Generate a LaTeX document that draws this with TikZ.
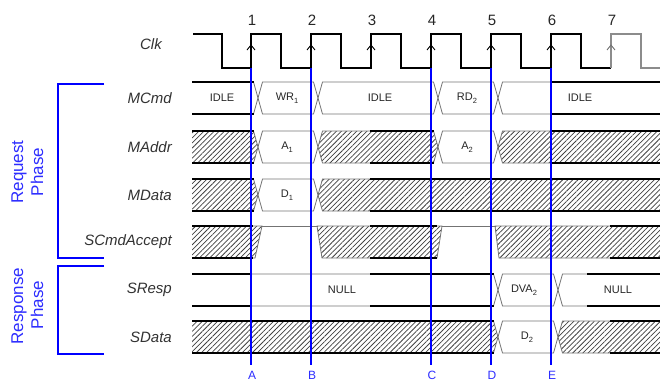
\documentclass[tikz,border=0pt]{standalone}
\usepackage{fontspec}
\setmainfont{Liberation Sans}
\usetikzlibrary{patterns.meta}
\definecolor{bl}{RGB}{0,0,255}
\definecolor{bltxt}{RGB}{45,45,255}
\definecolor{lbl}{RGB}{50,50,50}
\tikzset{
  thinl/.style={draw=black!55,line width=0.8pt},
  thickl/.style={draw=black,line width=1.8pt},
  hatch/.style={pattern={Lines[angle=45,distance=3.6pt,line width=0.75pt]},pattern color=black!75},
  clkline/.style={draw=black,line width=1.8pt},
  clkgray/.style={draw=black!45,line width=1.4pt},
  chev/.style={draw=black,line width=0.9pt},
  blueline/.style={draw=bl,line width=2.4pt},
  bracket/.style={draw=bl,line width=1.8pt},
  siglabel/.style={anchor=east,inner sep=0pt,text=lbl,font=\fontsize{15}{17}\selectfont\itshape},
  vallabel/.style={inner sep=0pt,text=black!85,font=\fontsize{11}{13}\selectfont},
  numlabel/.style={inner sep=0pt,text=black!85,font=\fontsize{15}{17}\selectfont},
  letlabel/.style={anchor=base,inner sep=0pt,text=bltxt,font=\fontsize{12}{14}\selectfont},
  phaselabel/.style={inner sep=0pt,text=bltxt,rotate=90,font=\fontsize{17}{19}\selectfont},
}
\newcommand\sbs[1]{\raisebox{-2.5pt}{\fontsize{7.5}{8}\selectfont #1}}
% hexagon value box between crossing centres #1 and #2, rows #3 (top) #4 (bottom)
\newcommand\hexv[5]{\path[#5] (#1,{(#3+#4)/2}) -- ({#1+4.5},#3) -- ({#2-4.5},#3) -- (#2,{(#3+#4)/2}) -- ({#2-4.5},#4) -- ({#1+4.5},#4) -- cycle;}
\newcommand\firstv[4]{\path[#4] (192,#2) -- ({#1-4.5},#2) -- (#1,{(#2+#3)/2}) -- ({#1-4.5},#3) -- (192,#3);}
\newcommand\lastv[4]{\path[#4] (660,#2) -- ({#1+4.5},#2) -- (#1,{(#2+#3)/2}) -- ({#1+4.5},#3) -- (660,#3);}
\newcommand\thk[4]{\draw[thickl] (#1,#3) -- (#2,#3) (#1,#4) -- (#2,#4);}
\begin{document}
\begin{tikzpicture}[x=1pt,y=-1pt]
\useasboundingbox (0,0) rectangle (660,381);
% ---- clock ----
\draw[clkline] (193,34) -- (222,34) -- (222,68) -- (251,68) -- (251,34) -- (281,34) -- (281,68)
  -- (311,68) -- (311,34) -- (341,34) -- (341,68) -- (371,68) -- (371,34) -- (401,34) -- (401,68)
  -- (431,68) -- (431,34) -- (461,34) -- (461,68) -- (491,68) -- (491,34) -- (521,34) -- (521,68)
  -- (551,68) -- (551,34) -- (581,34) -- (581,68) -- (611,68);
\draw[clkgray] (611,68) -- (611,34) -- (641,34) -- (641,68) -- (660,68);
\foreach \e in {251,311,371,431,491,551}{\draw[chev] (\e-4,50) -- (\e,45) -- (\e+4,50);}
\draw[chev,draw=black!55] (607,50) -- (611,45) -- (615,50);
\foreach \e/\n in {251/1,311/2,371/3,431/4,491/5,551/6,611/7}{\node[numlabel] (n\n) at (\e+1,20) {\n};}
% ---- signal labels ----
\node[siglabel] (lclk) at (162,44) {Clk};
\node[siglabel] (lmcmd) at (172,98) {MCmd};
\node[siglabel] (lmaddr) at (172,147) {MAddr};
\node[siglabel] (lmdata) at (172,195) {MData};
\node[siglabel] (lscmd) at (172,242) {SCmdAccept};
\node[siglabel] (lsresp) at (172,290) {SResp};
\node[siglabel] (lsdata) at (172,337) {SData};
% ---- MCmd ----
\firstv{258}{82}{114}{thinl}
\hexv{258}{318}{82}{114}{thinl}
\hexv{318}{438}{82}{114}{thinl}
\hexv{438}{498}{82}{114}{thinl}
\lastv{498}{82}{114}{thinl}
\thk{192}{253.5}{82}{114}
\thk{551}{660}{82}{114}
\node[vallabel] (v1) at (222,98) {IDLE};
\node[vallabel] (v2) at (287,98) {WR\sbs{1}};
\node[vallabel] (v3) at (380,98) {IDLE};
\node[vallabel] (v4) at (467,98) {RD\sbs{2}};
\node[vallabel] (v5) at (580,98) {IDLE};
% ---- MAddr ----
\firstv{258}{131}{163}{hatch,thinl}
\hexv{258}{318}{131}{163}{thinl}
\hexv{318}{438}{131}{163}{hatch,thinl}
\hexv{438}{498}{131}{163}{thinl}
\lastv{498}{131}{163}{hatch,thinl}
\thk{192}{253.5}{131}{163}
\thk{370}{433.5}{131}{163}
\thk{551}{660}{131}{163}
\node[vallabel] (v6) at (287,147) {A\sbs{1}};
\node[vallabel] (v7) at (467,147) {A\sbs{2}};
% ---- MData ----
\firstv{258}{179}{211}{hatch,thinl}
\hexv{258}{318}{179}{211}{thinl}
\lastv{318}{179}{211}{hatch,thinl}
\thk{192}{253.5}{179}{211}
\thk{370}{660}{179}{211}
\node[vallabel] (v8) at (287,195) {D\sbs{1}};
% ---- SCmdAccept ----
\fill[hatch] (192,226) -- (262,226) -- (255,258) -- (192,258) -- cycle;
\draw[thinl] (192,226) -- (262,226) -- (255,258) -- (192,258);
\draw[thinl] (262,226) -- (317,226);
\path[hatch,thinl] (317,226) -- (442,226) -- (437,258) -- (322,258) -- cycle;
\draw[thinl] (442,226) -- (495,226);
\fill[hatch] (495,226) -- (660,226) -- (660,258) -- (499,258) -- cycle;
\draw[thinl] (660,226) -- (495,226) -- (499,258) -- (660,258);
\thk{192}{253}{226}{258}
\thk{370}{437}{226}{258}
\thk{610}{660}{226}{258}
% ---- SResp ----
\firstv{498}{274}{306}{thinl}
\hexv{498}{558}{274}{306}{thinl}
\lastv{558}{274}{306}{thinl}
\thk{192}{251}{274}{306}
\thk{370}{493.5}{274}{306}
\thk{587}{660}{274}{306}
\node[vallabel] (v9) at (342,290) {NULL};
\node[vallabel] (v10) at (524,290) {DVA\sbs{2}};
\node[vallabel] (v11) at (618,290) {NULL};
% ---- SData ----
\firstv{498}{321}{353}{hatch,thinl}
\hexv{498}{558}{321}{353}{thinl}
\lastv{558}{321}{353}{hatch,thinl}
\thk{192}{493.5}{321}{353}
\thk{610}{660}{321}{353}
\node[vallabel] (v12) at (527,337) {D\sbs{2}};
% ---- blue markers ----
\foreach \x/\l in {251/A,311/B,431/C,491/D,551/E}{
  \coordinate (t\l) at (\x,68);
  \node[letlabel] (l\l) at (\x+1,379) {\l};
  \draw[blueline] (t\l) -- (\x,365);
}
% ---- phase brackets ----
\coordinate (rq1) at (104,84); \coordinate (rq2) at (58,84);
\coordinate (rq3) at (58,258); \coordinate (rq4) at (104,258);
\draw[bracket] (rq1) -- (rq2) -- (rq3) -- (rq4);
\coordinate (rs1) at (104,266); \coordinate (rs2) at (58,266);
\coordinate (rs3) at (58,354); \coordinate (rs4) at (104,354);
\draw[bracket] (rs1) -- (rs2) -- (rs3) -- (rs4);
\node[phaselabel] (preq) at (19,172) {Request};
\node[phaselabel] (preqb) at (37,172) {Phase};
\node[phaselabel] (pres) at (19,306) {Response};
\node[phaselabel] (presb) at (37,305) {Phase};
\end{tikzpicture}
\end{document}
